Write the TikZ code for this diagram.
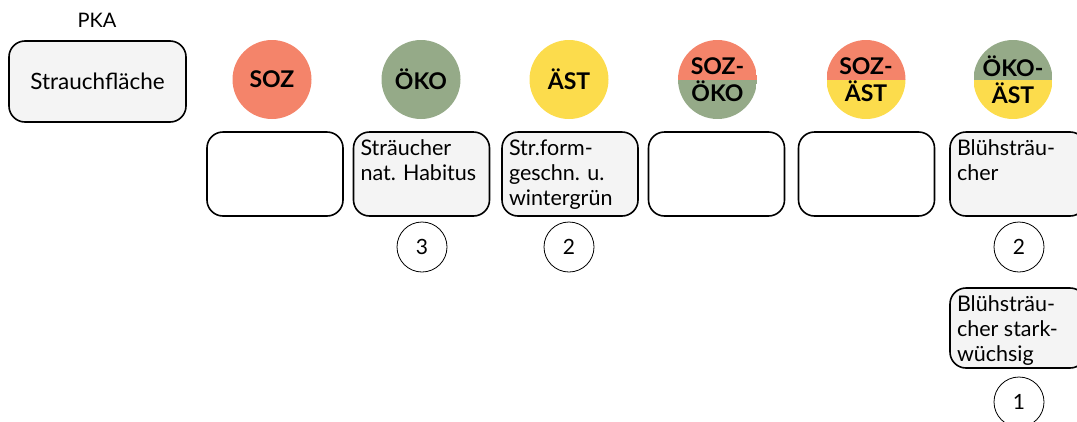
\documentclass[tikz,border=0pt]{standalone}
\usepackage{fontspec}
\setmainfont{Lato}
\definecolor{sozc}{RGB}{244,132,106}
\definecolor{okoc}{RGB}{149,170,136}
\definecolor{astc}{RGB}{252,220,76}
\definecolor{boxfill}{RGB}{244,244,244}
\begin{document}
\begin{tikzpicture}[x=1pt,y=-1pt,
  every node/.style={inner sep=0pt, outer sep=0pt},
  mbox/.style={draw=black, line width=1.6pt, rounded corners=16pt, minimum width=136pt, minimum height=84pt},
  filledbox/.style={mbox, fill=boxfill},
  boxtext/.style={anchor=north west, align=left, font=\fontsize{21.5}{25}\selectfont},
  cat/.style={circle, minimum size=79pt, font=\fontsize{23}{27}\selectfont\bfseries, align=center},
  halfcat/.style 2 args={cat, path picture={
      \fill[#1] (path picture bounding box.north west) rectangle (path picture bounding box.east);
      \fill[#2] (path picture bounding box.west) rectangle (path picture bounding box.south east);}},
  rank/.style={circle, draw=black, line width=0.8pt, minimum size=50pt, font=\fontsize{21}{24}\selectfont}
]
\useasboundingbox (0,0) rectangle (1077,421);

% heading and the area type
\node (pka) at (97,20) {\fontsize{20}{24}\selectfont PKA};
\node[filledbox, minimum width=177pt, minimum height=81pt] (area) at (97.5,81.5) {\fontsize{22.5}{26}\selectfont Strauchfläche};

% categories
\node[cat, fill=sozc] (soz) at (272,79.5) {SOZ};
\node[cat, fill=okoc] (oko) at (421,79.5) {ÖKO};
\node[cat, fill=astc] (ast) at (569,79.5) {ÄST};
\node[halfcat={sozc}{okoc}] (sozoko) at (717.5,79.5) {SOZ-\\ÖKO};
\node[halfcat={sozc}{astc}] (sozast) at (866,79.5) {SOZ-\\ÄST};
\node[halfcat={okoc}{astc}] (okoast) at (1013,79.5) {ÖKO-\\ÄST};

% measures per category
\node[mbox] (bsoz) at (275,174) {};
\node[filledbox] (boko) at (421.5,174) {};
\node[filledbox] (bast) at (570,174) {};
\node[mbox] (bsozoko) at (716.5,174) {};
\node[mbox] (bsozast) at (866.5,174) {};
\node[filledbox] (bokoast) at (1018,174) {};
\node[filledbox, minimum height=80pt] (bokoast2) at (1018,328) {};

\node[boxtext] (toko) at ([xshift=7pt,yshift=-8pt]boko.north west) {Sträucher\\nat. Habitus};
\node[boxtext] (tast) at ([xshift=7pt,yshift=-8pt]bast.north west) {Str.form-\\geschn. u.\\wintergrün};
\node[boxtext] (tokoast) at ([xshift=7pt,yshift=-8pt]bokoast.north west) {Blühsträu-\\cher};
\node[boxtext] (tokoast2) at ([xshift=7pt,yshift=-8pt]bokoast2.north west) {Blühsträu-\\cher stark-\\wüchsig};

% ranks
\node[rank] (roko) at (422,247) {3};
\node[rank] (rast) at (569,247) {2};
\node[rank] (rokoast) at (1019,247) {2};
\node[rank] (rokoast2) at (1019,402) {1};
\end{tikzpicture}
\end{document}
